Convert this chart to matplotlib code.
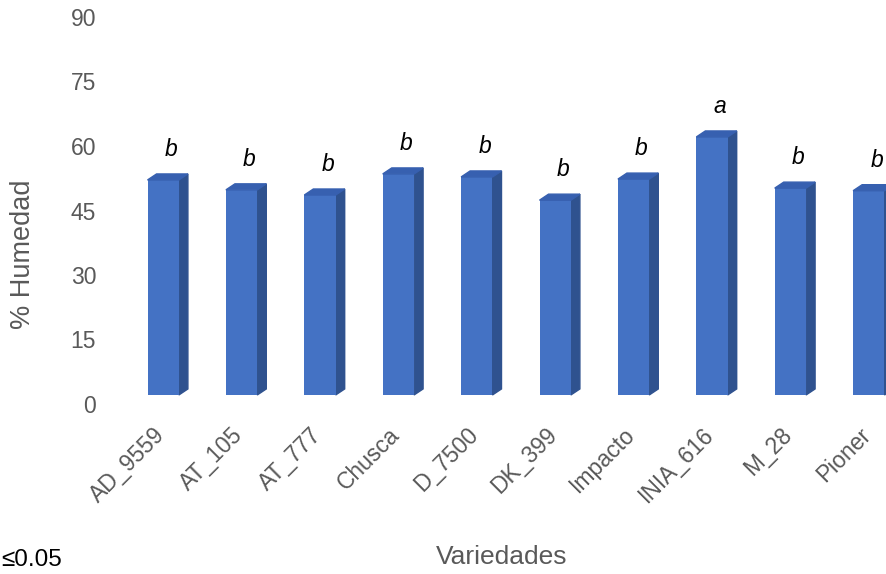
import matplotlib.pyplot as plt
from matplotlib.patches import Polygon
from matplotlib.transforms import ScaledTranslation

plt.rcParams['font.family'] = ['Liberation Sans', 'DejaVu Sans']

# data
variedades = ['AD_9559', 'AT_105', 'AT_777', 'Chusca', 'D_7500',
              'DK_399', 'Impacto', 'INIA_616', 'M_28', 'Pioner']
humedad = [52.1, 49.8, 48.6, 53.5, 52.8, 47.4, 52.3, 62.1, 50.2, 49.6]
letras = ['b', 'b', 'b', 'b', 'b', 'b', 'b', 'a', 'b', 'b']
yticks = [0, 15, 30, 45, 60, 75, 90]

# style for the fake 3D look
front_c = '#4472C4'
side_c = '#2F528F'
top_c = '#3760B0'
grey = '#595959'
w = 0.40      # front face width
dx = 0.115    # depth offset (x)
dy = 1.4      # depth offset (y)
floor = 2.1

fig = plt.figure(figsize=(8.86, 5.74), dpi=100)
ax = fig.add_axes([124 / 886, 1 - 404 / 574, (886 - 124) / 886, (404 - 17) / 574])

x = list(range(len(variedades)))
ax.bar(x, [v - floor for v in humedad], bottom=floor, width=w,
       color=front_c, zorder=3)

for i, v in zip(x, humedad):
    r = i + w / 2
    l = i - w / 2
    side = Polygon([(r, floor), (r + dx, floor + dy), (r + dx, v + dy), (r, v)],
                   closed=True, color=side_c, zorder=2)
    top = Polygon([(l, v), (l + dx, v + dy), (r + dx, v + dy), (r, v)],
                  closed=True, color=top_c, zorder=4)
    ax.add_patch(side)
    ax.add_patch(top)

for i, v, t in zip(x, humedad, letras):
    ax.text(i + 0.1, v + 5.6, t, ha='center', va='baseline', fontsize=16.5,
            style='italic', color='black')

ax.set_xlim(-0.5, -0.5 + (886 - 124) / 78.4)
ax.set_ylim(0, 90)
ax.set_yticks(yticks)
ax.set_xticks(x)
ax.set_xticklabels(variedades, rotation=45, ha='right', va='top',
                   rotation_mode='anchor')
ax.tick_params(axis='both', length=0, labelsize=16.5, labelcolor=grey)
ax.tick_params(axis='y', pad=20)
ax.tick_params(axis='x', pad=14)
shift = ScaledTranslation(-10 / 100, 0, fig.dpi_scale_trans)
for lab in ax.get_xticklabels():
    lab.set_transform(lab.get_transform() + shift)
for s in ax.spines.values():
    s.set_visible(False)

fig.text(23 / 886, 1 - 254 / 574, '% Humedad', rotation=90, ha='center',
         va='center', fontsize=19.5, color=grey)
fig.text(502 / 886, 1 - 557 / 574, 'Variedades', ha='center', va='center',
         fontsize=19, color=grey)
fig.text(1 / 886, 1 - 560 / 574, '≤0.05', ha='left', va='center',
         fontsize=17.5, color='black')

fig.savefig('out.png', dpi=100)
